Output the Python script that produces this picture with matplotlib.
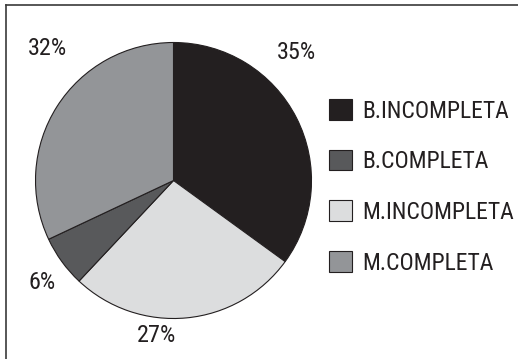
import matplotlib
matplotlib.use('Agg')
import matplotlib.pyplot as plt
from matplotlib.patches import Patch
from matplotlib.lines import Line2D

# education level shares
categories = ['B.INCOMPLETA', 'B.COMPLETA', 'M.INCOMPLETA', 'M.COMPLETA']
values = [35, 6, 27, 32]
colors = ['#231f20', '#58595b', '#dcddde', '#939598']

# order the slices are drawn in (clockwise from the top)
draw_order = [0, 2, 1, 3]
# where each category's percentage label sits, in pie-radius units
label_pos = [(0.89, 0.93), (-0.95, -0.74), (-0.12, -1.12), (-0.91, 0.96)]

plt.rcParams['font.family'] = ['Nimbus Sans Narrow', 'Roboto Condensed',
                               'Liberation Sans', 'DejaVu Sans']

W, H = 518, 359
fig = plt.figure(figsize=(W / 100, H / 100), dpi=100)
ax = fig.add_axes([0, 0, 1, 1])

cx, cy, r = 173.5, 180.5, 138.0

ax.pie([values[i] for i in draw_order],
       colors=[colors[i] for i in draw_order],
       startangle=90, counterclock=False, radius=1.0,
       wedgeprops=dict(edgecolor='#231f20', linewidth=0.8),
       frame=True)
ax.set_xlim(-cx / r, (W - cx) / r)
ax.set_ylim(-(H - cy) / r, cy / r)
ax.set_aspect('auto')
ax.axis('off')

for v, (lx, ly) in zip(values, label_pos):
    ax.text(lx, ly, f'{v}%', ha='center', va='center',
            fontsize=17.5, color='#231f20')

handles = [Patch(facecolor=c, edgecolor='#231f20', linewidth=0.8) for c in colors]
leg = fig.legend(handles, categories, loc='upper left',
                 bbox_to_anchor=(329 / W, 1 - 99 / H),
                 frameon=False, fontsize=17, borderpad=0, borderaxespad=0,
                 handlelength=0.98, handleheight=0.98,
                 handletextpad=0.42, labelspacing=1.15)
for t in leg.get_texts():
    t.set_color('#231f20')

# outer frame (only top and left edges fall inside the picture)
fig.add_artist(Line2D([5.5 / W, 5.5 / W], [0, 1 - 4.5 / H],
                      transform=fig.transFigure, color='#3a3a3a', linewidth=1.2))
fig.add_artist(Line2D([5.5 / W, 1], [1 - 4.5 / H, 1 - 4.5 / H],
                      transform=fig.transFigure, color='#3a3a3a', linewidth=1.2))

fig.savefig('out.png', dpi=100, facecolor='white')
